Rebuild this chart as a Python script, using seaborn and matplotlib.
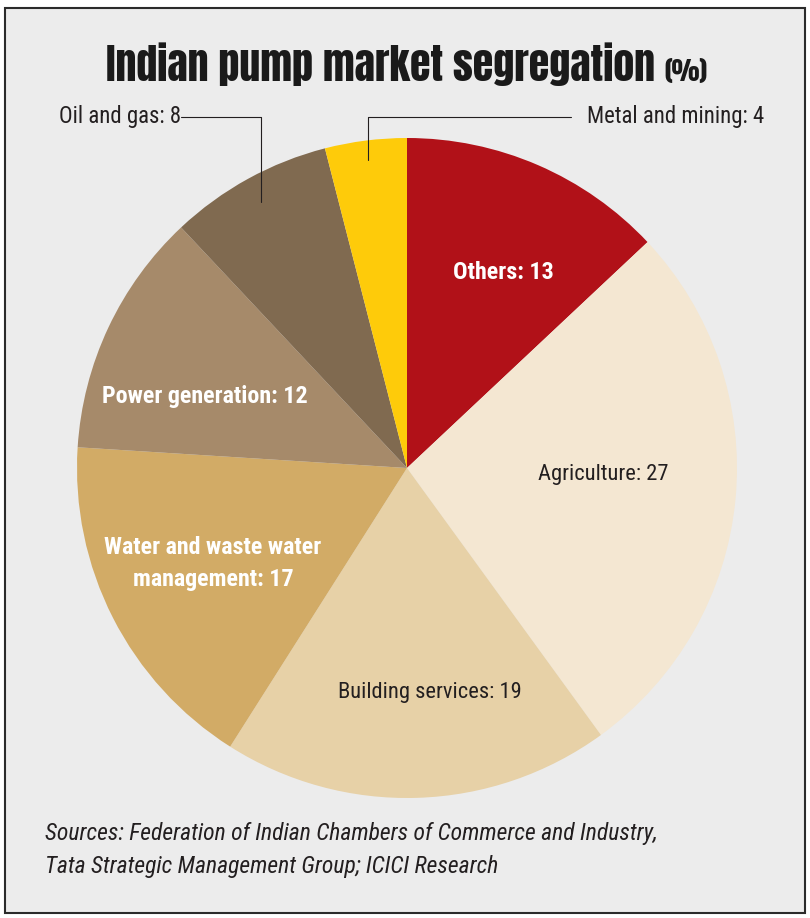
import numpy as np
import matplotlib
matplotlib.use("Agg")
import matplotlib.pyplot as plt
from matplotlib.patches import Rectangle
import seaborn as sns

# dati (quota %, senso orario da ore 12)
settori = ["Others", "Agriculture", "Building services",
           "Water and waste water\nmanagement", "Power generation",
           "Oil and gas", "Metal and mining"]
quote = [13, 27, 19, 17, 12, 8, 4]
colori = ["#b11118", "#f4e7d2", "#e7d1a7", "#d2ab66", "#a68a6a", "#806a50", "#fecb0a"]
# etichette dentro la torta: colore testo, grassetto, distanza dal centro, scarto angolo (gradi)
interni = {"Others": ("white", "bold", 0.66, 3.0),
           "Agriculture": ("#231f20", "normal", 0.595, -3.4),
           "Building services": ("#231f20", "normal", 0.684, -4.1),
           "Water and waste water\nmanagement": ("white", "bold", 0.655, 0.9),
           "Power generation": ("white", "bold", 0.649, -5.8)}

sns.set_theme(style="white")
plt.rcParams["font.family"] = ["Roboto Condensed", "DejaVu Sans"]

W, H = 810, 918
fig = plt.figure(figsize=(W / 100, H / 100), dpi=100)
fig.patch.set_facecolor("white")
fig.patches.append(Rectangle((5 / W, 1 - 913 / H), 800 / W, 905 / H, transform=fig.transFigure,
                             facecolor="#ececec", edgecolor="#2b2b2b", linewidth=1.5, zorder=-5))

cx, cy, r = 407, 468, 330
ax = fig.add_axes([(cx - r) / W, 1 - (cy + r) / H, 2 * r / W, 2 * r / H])
ax.pie(quote, colors=colori, startangle=90, counterclock=False,
       wedgeprops=dict(linewidth=0))
ax.set_xlim(-1, 1)
ax.set_ylim(-1, 1)
ax.axis("off")

# angoli medi dei settori
cum = np.cumsum([0] + quote)
mid = [(cum[i] + cum[i + 1]) / 2 / sum(quote) * 2 * np.pi for i in range(len(quote))]

for i, nome in enumerate(settori):
    if nome in interni:
        col, peso, d, da = interni[nome]
        a = mid[i] + np.radians(da)
        ax.text(d * np.sin(a), d * np.cos(a), f"{nome}: {quote[i]}", color=col, fontweight=peso,
                fontsize=17.3 if peso == "bold" else 16.2, ha="center", va="center",
                linespacing=1.5)

# linee guida per i settori piccoli
yl = (cy - 117) / r
i_oil = settori.index("Oil and gas")
a = mid[i_oil]
px, py = 0.92 * np.sin(a), 0.92 * np.cos(a)
ax.plot([px, px, (181 - cx) / r], [py, yl, yl], color="#231f20", lw=0.8, clip_on=False)
ax.text((181 - cx) / r, yl, f"Oil and gas: {quote[i_oil]}", ha="right", va="center",
        fontsize=16.4, color="#231f20")

i_met = settori.index("Metal and mining")
a = mid[i_met]
px, py = 0.94 * np.sin(a), 0.94 * np.cos(a)
ax.plot([px, px, (571 - cx) / r], [py, yl, yl], color="#231f20", lw=0.8, clip_on=False)
ax.text((587 - cx) / r, yl, f"Metal and mining: {quote[i_met]}", ha="left", va="center",
        fontsize=16.4, color="#231f20")

# titolo: dimensione adattata alla larghezza del riferimento
titolo = fig.text(106 / W, 1 - 81 / H, "Indian pump market segregation", fontsize=33,
                  family=["Anton", "DejaVu Sans"], color="#1a1a1a", ha="left", va="baseline")
rend = fig.canvas.get_renderer()
larg = titolo.get_window_extent(rend).width
titolo.set_fontsize(33 * 550 / larg)
bb = titolo.get_window_extent(rend)
fig.text((bb.x1 + 9) / W, 1 - 81 / H, "(%)", fontsize=19,
         family=["Anton", "DejaVu Sans"], color="#1a1a1a", ha="left", va="baseline")

# fonti
fig.text(45 / W, 1 - 850 / H, "Sources: Federation of Indian Chambers of Commerce and Industry,\n"
         "Tata Strategic Management Group; ICICI Research", fontsize=17, style="italic",
         color="#231f20", ha="left", va="center", linespacing=1.55)

fig.savefig("out.png", dpi=100)
